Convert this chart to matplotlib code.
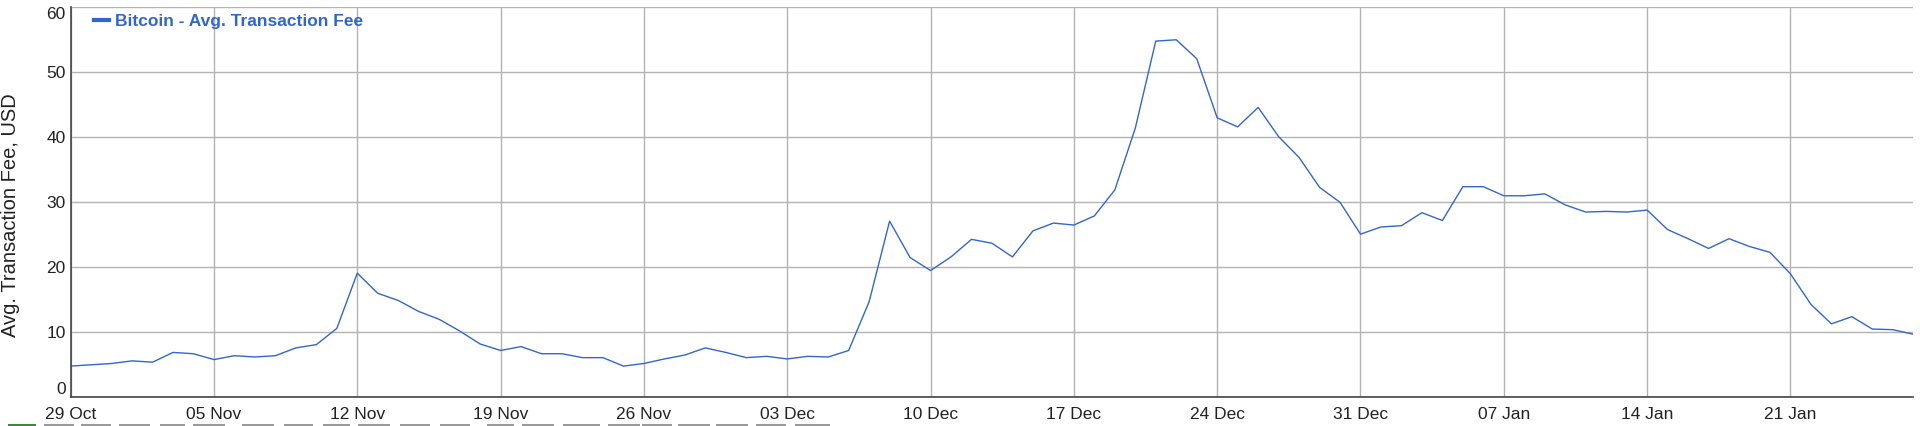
import matplotlib
matplotlib.use('Agg')
import matplotlib.pyplot as plt
import matplotlib.dates as mdates
import pandas as pd

# daily average fee, 29 Oct 2017 .. 27 Jan 2018
start_date = '2017-10-29'
fees = [
    4.8, 5.0, 5.2, 5.6, 5.4, 6.9, 6.7, 5.8, 6.4, 6.2, 6.4, 7.6, 8.1, 10.6,
    19.1, 16.0, 14.9, 13.2, 12.0, 10.2, 8.2,
    7.2, 7.8, 6.7, 6.7, 6.1, 6.1, 4.8, 5.2, 5.9, 6.5, 7.6, 6.9, 6.1, 6.3,
    5.9, 6.3, 6.2, 7.2, 14.7, 27.1, 21.5, 19.5, 21.6,
    24.3, 23.7, 21.6, 25.6, 26.8, 26.5, 27.9, 31.9, 41.4, 54.8, 55.0, 52.1,
    43.0, 41.6, 44.6, 40.1, 36.9, 32.3, 30.0, 25.1, 26.2, 26.4, 28.4, 27.2,
    32.4, 32.4, 31.0, 31.0, 31.3, 29.6, 28.5, 28.6, 28.5, 28.8, 25.8, 24.4,
    22.9, 24.4, 23.2, 22.3, 19.0, 14.3, 11.3, 12.4, 10.5, 10.4, 9.7,
]
dates = pd.date_range(start_date, periods=len(fees), freq='D')
yticks = [0, 10, 20, 30, 40, 50, 60]
series_label = 'Bitcoin - Avg. Transaction Fee'
y_label = 'Avg. Transaction Fee, USD'

plt.rcParams['font.family'] = ['Liberation Sans', 'DejaVu Sans']

fig = plt.figure(figsize=(19.2, 4.26), dpi=100)
ax = fig.add_axes([0.0368, 0.0674, 0.9597, 0.9155])

line_color = '#3366cc'
ax.plot(dates, fees, color=line_color, lw=1.0, label=series_label)

ax.set_xlim(dates[0], dates[-1])
ax.set_ylim(0, 60)
ax.set_yticks(yticks)
ax.set_xticks(pd.date_range(start_date, dates[-1], freq='7D'))
ax.xaxis.set_major_formatter(mdates.DateFormatter('%d %b'))

ax.grid(True, color='#b3b3b3', lw=1.0)
ax.set_axisbelow(True)
for s in ['top', 'right']:
    ax.spines[s].set_visible(False)
for s in ['left', 'bottom']:
    ax.spines[s].set_color('#444444')
    ax.spines[s].set_linewidth(1.2)

ax.tick_params(axis='both', length=0, labelsize=12.5, colors='#222222')
ax.tick_params(axis='x', pad=7)
ax.tick_params(axis='y', pad=3.5)
ylabs = ax.get_yticklabels()
ylabs[0].set_verticalalignment('bottom')
ylabs[-1].set_verticalalignment('top')

ax.set_ylabel(y_label, fontsize=14.5, color='#222222')
ax.yaxis.set_label_coords(-0.0275, 0.467)

leg = ax.legend(loc='upper left', frameon=False, handlelength=0.9,
                handletextpad=0.35, borderaxespad=0.2,
                bbox_to_anchor=(0.0068, 1.01),
                prop={'weight': 'bold', 'size': 12.5})
for t in leg.get_texts():
    t.set_color(line_color)
for h in leg.get_lines():
    h.set_linewidth(3)

# cut-off paging strip at the bottom edge
strip_x = [8, 44, 81, 119, 160, 193, 242, 284, 323, 358, 400, 440, 487,
           522, 563, 608, 642, 678, 716, 756, 795]
strip_w = [28, 30, 30, 31, 25, 32, 32, 29, 27, 32, 30, 30, 27,
           32, 37, 32, 30, 32, 32, 30, 35]
for i, (x0, w) in enumerate(zip(strip_x, strip_w)):
    fig.patches.append(plt.Rectangle((x0 / 1920, 0), w / 1920, 2.5 / 426,
                                     transform=fig.transFigure,
                                     color='#3a8a3a' if i == 0 else '#9a9a9a',
                                     lw=0))

fig.savefig('out.png', dpi=100)
